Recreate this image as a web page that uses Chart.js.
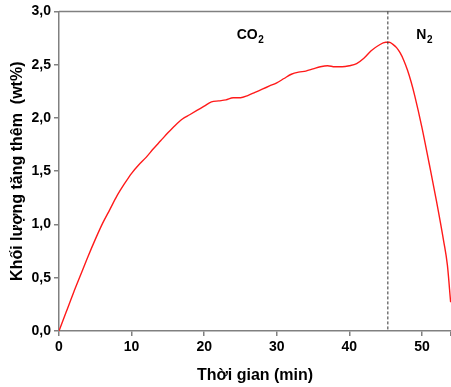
<!DOCTYPE html>
<html>
<head>
<meta charset="utf-8">
<script src="https://cdn.jsdelivr.net/npm/chart.js@4.4.0/dist/chart.umd.min.js"></script>
<style>
  html, body { margin: 0; padding: 0; background: #fff; }
  #wrap { width: 451px; height: 387px; }
</style>
</head>
<body>
<div id="wrap"><canvas id="massChart"></canvas></div>
<script>
// time (min) and mass gain (wt%)
const timeMin = [
  0, 1, 2, 3, 4, 5, 6, 7, 8, 9, 10, 11, 12, 13, 14, 15, 16, 17, 18, 19,
  20, 21, 22, 23, 24, 25, 26, 27, 28, 29, 30, 31, 32, 33, 34, 35, 36, 37, 38, 39,
  40, 41, 42, 43, 44, 45, 45.5, 46, 46.5, 47, 47.5, 48, 48.5, 49, 50, 51, 52, 53, 53.5, 53.95
];
const massGain = [
  0, 0.18, 0.36, 0.53, 0.70, 0.86, 1.01, 1.14, 1.27, 1.38, 1.48, 1.56, 1.63, 1.71, 1.785, 1.86, 1.93, 1.99, 2.03, 2.07,
  2.11, 2.15, 2.16, 2.17, 2.19, 2.19, 2.21, 2.24, 2.27, 2.30, 2.33, 2.37, 2.41, 2.43, 2.44, 2.46, 2.48, 2.49, 2.48, 2.48,
  2.49, 2.51, 2.56, 2.63, 2.68, 2.71, 2.71, 2.69, 2.66, 2.61, 2.54, 2.45, 2.34, 2.21, 1.91, 1.57, 1.22, 0.84, 0.62, 0.27
];
const switchTime = 45.3;
const gasLabels = [
  { text: 'CO', sub: '2', x: 26.3, y: 2.78 },
  { text: 'N', sub: '2', x: 50.3, y: 2.78 }
];

const points = timeMin.map((t, i) => ({ x: t, y: massGain[i] }));
const tickFont = { family: 'Liberation Sans, Arial, sans-serif', size: 14, weight: 'bold' };
const titleFont = { family: 'Liberation Sans, Arial, sans-serif', size: 16, weight: 'bold' };

// top frame line, dashed switch marker and gas labels
const extras = {
  id: 'extras',
  afterDatasetsDraw(chart) {
    const { ctx, chartArea, scales } = chart;
    ctx.save();
    ctx.strokeStyle = '#808080';
    ctx.lineWidth = 1.5;
    ctx.beginPath();
    ctx.moveTo(chartArea.left, chartArea.top);
    ctx.lineTo(chartArea.right, chartArea.top);
    ctx.stroke();

    const sx = scales.x.getPixelForValue(switchTime);
    ctx.strokeStyle = '#333';
    ctx.lineWidth = 1;
    ctx.setLineDash([3, 2]);
    ctx.beginPath();
    ctx.moveTo(sx, chartArea.top);
    ctx.lineTo(sx, chartArea.bottom);
    ctx.stroke();
    ctx.setLineDash([]);

    ctx.fillStyle = '#000';
    ctx.textBaseline = 'middle';
    gasLabels.forEach(g => {
      ctx.font = 'bold 14px Liberation Sans, Arial, sans-serif';
      const w = ctx.measureText(g.text).width;
      ctx.font = 'bold 10px Liberation Sans, Arial, sans-serif';
      const ws = ctx.measureText(g.sub).width;
      const cx = scales.x.getPixelForValue(g.x);
      const cy = scales.y.getPixelForValue(g.y);
      const x0 = cx - (w + ws) / 2;
      ctx.font = 'bold 14px Liberation Sans, Arial, sans-serif';
      ctx.textAlign = 'left';
      ctx.fillText(g.text, x0, cy);
      ctx.font = 'bold 10px Liberation Sans, Arial, sans-serif';
      ctx.fillText(g.sub, x0 + w + 0.5, cy + 5);
    });
    ctx.restore();
  }
};

new Chart(document.getElementById('massChart'), {
  type: 'line',
  data: {
    datasets: [{
      data: points,
      borderColor: '#ff1a1a',
      borderWidth: 1.4,
      pointRadius: 0,
      cubicInterpolationMode: 'monotone',
      fill: false
    }]
  },
  options: {
    responsive: true,
    maintainAspectRatio: false,
    animation: false,
    layout: { padding: { top: 10, right: 0, left: 0, bottom: 0 } },
    plugins: { legend: { display: false }, tooltip: { enabled: false } },
    scales: {
      x: {
        type: 'linear',
        min: 0,
        max: 54,
        afterFit(scale) { scale.height = 56; scale.paddingRight = 0; scale.paddingLeft = 0; },
        border: { color: '#808080', width: 1.5 },
        grid: { drawOnChartArea: false, color: '#808080', tickLength: 5, lineWidth: 1.5 },
        ticks: {
          stepSize: 10,
          color: '#000',
          font: tickFont,
          padding: 3,
          maxRotation: 0,
          callback: v => (v % 10 === 0 ? String(v) : '')
        },
        title: { display: true, text: 'Thời gian (min)', color: '#000', font: titleFont, padding: { top: 0, bottom: 2 } }
      },
      y: {
        min: 0,
        max: 3,
        afterFit(scale) { scale.width = 59; },
        border: { color: '#808080', width: 1.5 },
        grid: { drawOnChartArea: false, color: '#808080', tickLength: 5, lineWidth: 1.5 },
        ticks: {
          stepSize: 0.5,
          color: '#000',
          font: tickFont,
          padding: 3,
          callback: v => v.toFixed(1).replace('.', ',')
        },
        title: { display: true, text: 'Khối lượng tăng thêm  (wt%)', color: '#000', font: titleFont, padding: { top: 8, bottom: 0 } }
      }
    }
  },
  plugins: [extras]
});
</script>
</body>
</html>
